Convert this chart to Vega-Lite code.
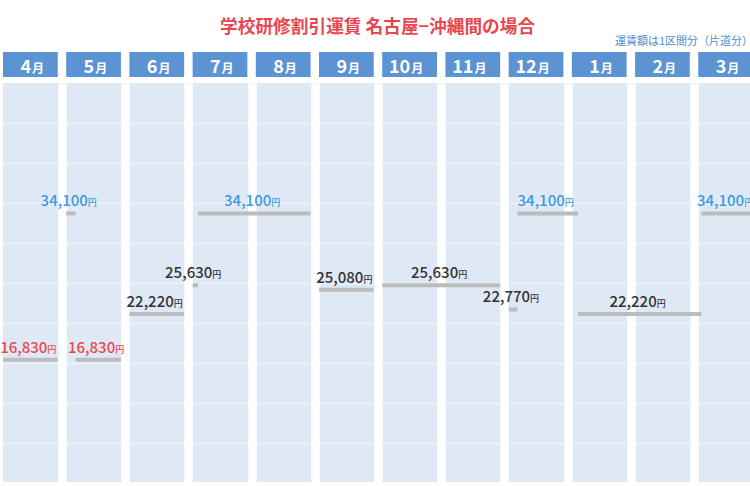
{
  "$schema": "https://vega.github.io/schema/vega-lite/v6.json",
  "padding": {"top": 19, "left": 0, "right": 0, "bottom": 0},
  "background": "white",
  "title": {
    "text": "学校研修割引運賃 名古屋−沖縄間の場合",
    "fontSize": 17.7,
    "fontWeight": "bold",
    "color": "#e8474f",
    "anchor": "middle",
    "offset": -1
  },
  "datasets": {
    "months": [
      {"month": "4", "start": 0, "end": 0.866},
      {"month": "5", "start": 1, "end": 1.866},
      {"month": "6", "start": 2, "end": 2.866},
      {"month": "7", "start": 3, "end": 3.866},
      {"month": "8", "start": 4, "end": 4.866},
      {"month": "9", "start": 5, "end": 5.866},
      {"month": "10", "start": 6, "end": 6.866},
      {"month": "11", "start": 7, "end": 7.866},
      {"month": "12", "start": 8, "end": 8.866},
      {"month": "1", "start": 9, "end": 9.866},
      {"month": "2", "start": 10, "end": 10.866},
      {"month": "3", "start": 11, "end": 11.866}
    ],
    "fares": [
      {"start": 0, "end": 0.866, "fare": 16830, "band": "low"},
      {"start": 1.0, "end": 1.147, "fare": 34100, "band": "high"},
      {"start": 1.147, "end": 1.866, "fare": 16830, "band": "low"},
      {"start": 2.0, "end": 2.866, "fare": 22220, "band": "mid"},
      {"start": 3.0, "end": 3.085, "fare": 25630, "band": "mid"},
      {"start": 3.085, "end": 4.866, "fare": 34100, "band": "high"},
      {"start": 5.0, "end": 5.866, "fare": 25080, "band": "mid"},
      {"start": 6.0, "end": 7.866, "fare": 25630, "band": "mid"},
      {"start": 8.0, "end": 8.14, "fare": 22770, "band": "mid"},
      {"start": 8.14, "end": 9.098, "fare": 34100, "band": "high"},
      {"start": 9.098, "end": 11.049, "fare": 22220, "band": "mid"},
      {"start": 11.049, "end": 11.866, "fare": 34100, "band": "high"}
    ]
  },
  "spacing": 6,
  "vconcat": [
    {
      "width": 750,
      "height": 25,
      "title": {
        "text": "運賃額は1区間分（片道分）",
        "anchor": "end",
        "fontSize": 11,
        "fontWeight": "normal",
        "color": "#4a8fd2",
        "offset": 5
      },
      "data": {"name": "months"},
      "encoding": {
        "x": {
          "field": "start",
          "type": "quantitative",
          "scale": {"domain": [0, 11.866], "nice": false, "zero": false},
          "axis": null
        }
      },
      "layer": [
        {
          "mark": {"type": "rect", "color": "#5b93d3"},
          "encoding": {"x2": {"field": "end"}}
        },
        {
          "mark": {"type": "text", "align": "right", "baseline": "alphabetic", "dy": 8, "dx": 28, "fontSize": 18, "fontWeight": "bold", "color": "white"},
          "encoding": {"text": {"field": "month"}}
        },
        {
          "mark": {"type": "text", "align": "left", "baseline": "alphabetic", "dy": 8, "dx": 29, "fontSize": 12, "fontWeight": "bold", "color": "white"},
          "encoding": {"text": {"value": "月"}}
        }
      ]
    },
    {
      "width": 750,
      "height": 399,
      "view": {"fill": "#dfe9f6", "stroke": null},
      "data": {"name": "fares"},
      "layer": [
        {
          "mark": {"type": "rule", "strokeWidth": 4, "color": "#bcbcbc", "strokeCap": "butt"},
          "encoding": {
            "x": {
              "field": "start",
              "type": "quantitative",
              "scale": {"domain": [0, 11.866], "nice": false, "zero": false},
              "axis": {
                "grid": true,
                "values": [0.933, 1.933, 2.933, 3.933, 4.933, 5.933, 6.933, 7.933, 8.933, 9.933, 10.933],
                "gridColor": "white",
                "gridWidth": 8.5,
                "gridOpacity": 1,
                "labels": false,
                "ticks": false,
                "domain": false,
                "title": null,
                "minExtent": 0,
                "maxExtent": 0
              }
            },
            "x2": {"field": "end"},
            "y": {
              "field": "fare",
              "type": "quantitative",
              "scale": {"domain": [2400, 49500], "nice": false, "zero": false},
              "axis": {
                "grid": true,
                "values": [44743, 40021, 35299, 30577, 25855, 21133, 16411, 11689, 6967],
                "gridColor": "white",
                "gridDash": [2, 2],
                "gridWidth": 1.5,
                "gridOpacity": 0.9,
                "labels": false,
                "ticks": false,
                "domain": false,
                "title": null,
                "minExtent": 0,
                "maxExtent": 0
              }
            }
          }
        },
        {
          "transform": [{"fold": ["start", "end"], "as": ["edge", "pos"]}],
          "mark": {"type": "text", "align": "right", "baseline": "alphabetic", "dy": -7, "dx": 17, "fontSize": 15, "fontWeight": 500},
          "encoding": {
            "x": {"aggregate": "mean", "field": "pos", "type": "quantitative"},
            "y": {"field": "fare", "type": "quantitative"},
            "detail": {"field": "start", "type": "quantitative"},
            "text": {"field": "fare", "type": "quantitative", "format": ","},
            "color": {
              "field": "band",
              "type": "nominal",
              "scale": {"domain": ["low", "mid", "high"], "range": ["#e8474f", "#333333", "#3b9be0"]},
              "legend": null
            }
          }
        },
        {
          "transform": [{"fold": ["start", "end"], "as": ["edge", "pos"]}],
          "mark": {"type": "text", "align": "left", "baseline": "alphabetic", "dy": -7, "dx": 17, "fontSize": 9, "fontWeight": 500},
          "encoding": {
            "x": {"aggregate": "mean", "field": "pos", "type": "quantitative"},
            "y": {"field": "fare", "type": "quantitative"},
            "detail": {"field": "start", "type": "quantitative"},
            "text": {"value": "円"},
            "color": {"field": "band", "type": "nominal", "legend": null}
          }
        }
      ]
    }
  ],
  "config": {
    "font": "Noto Sans CJK JP",
    "view": {"stroke": null}
  }
}
